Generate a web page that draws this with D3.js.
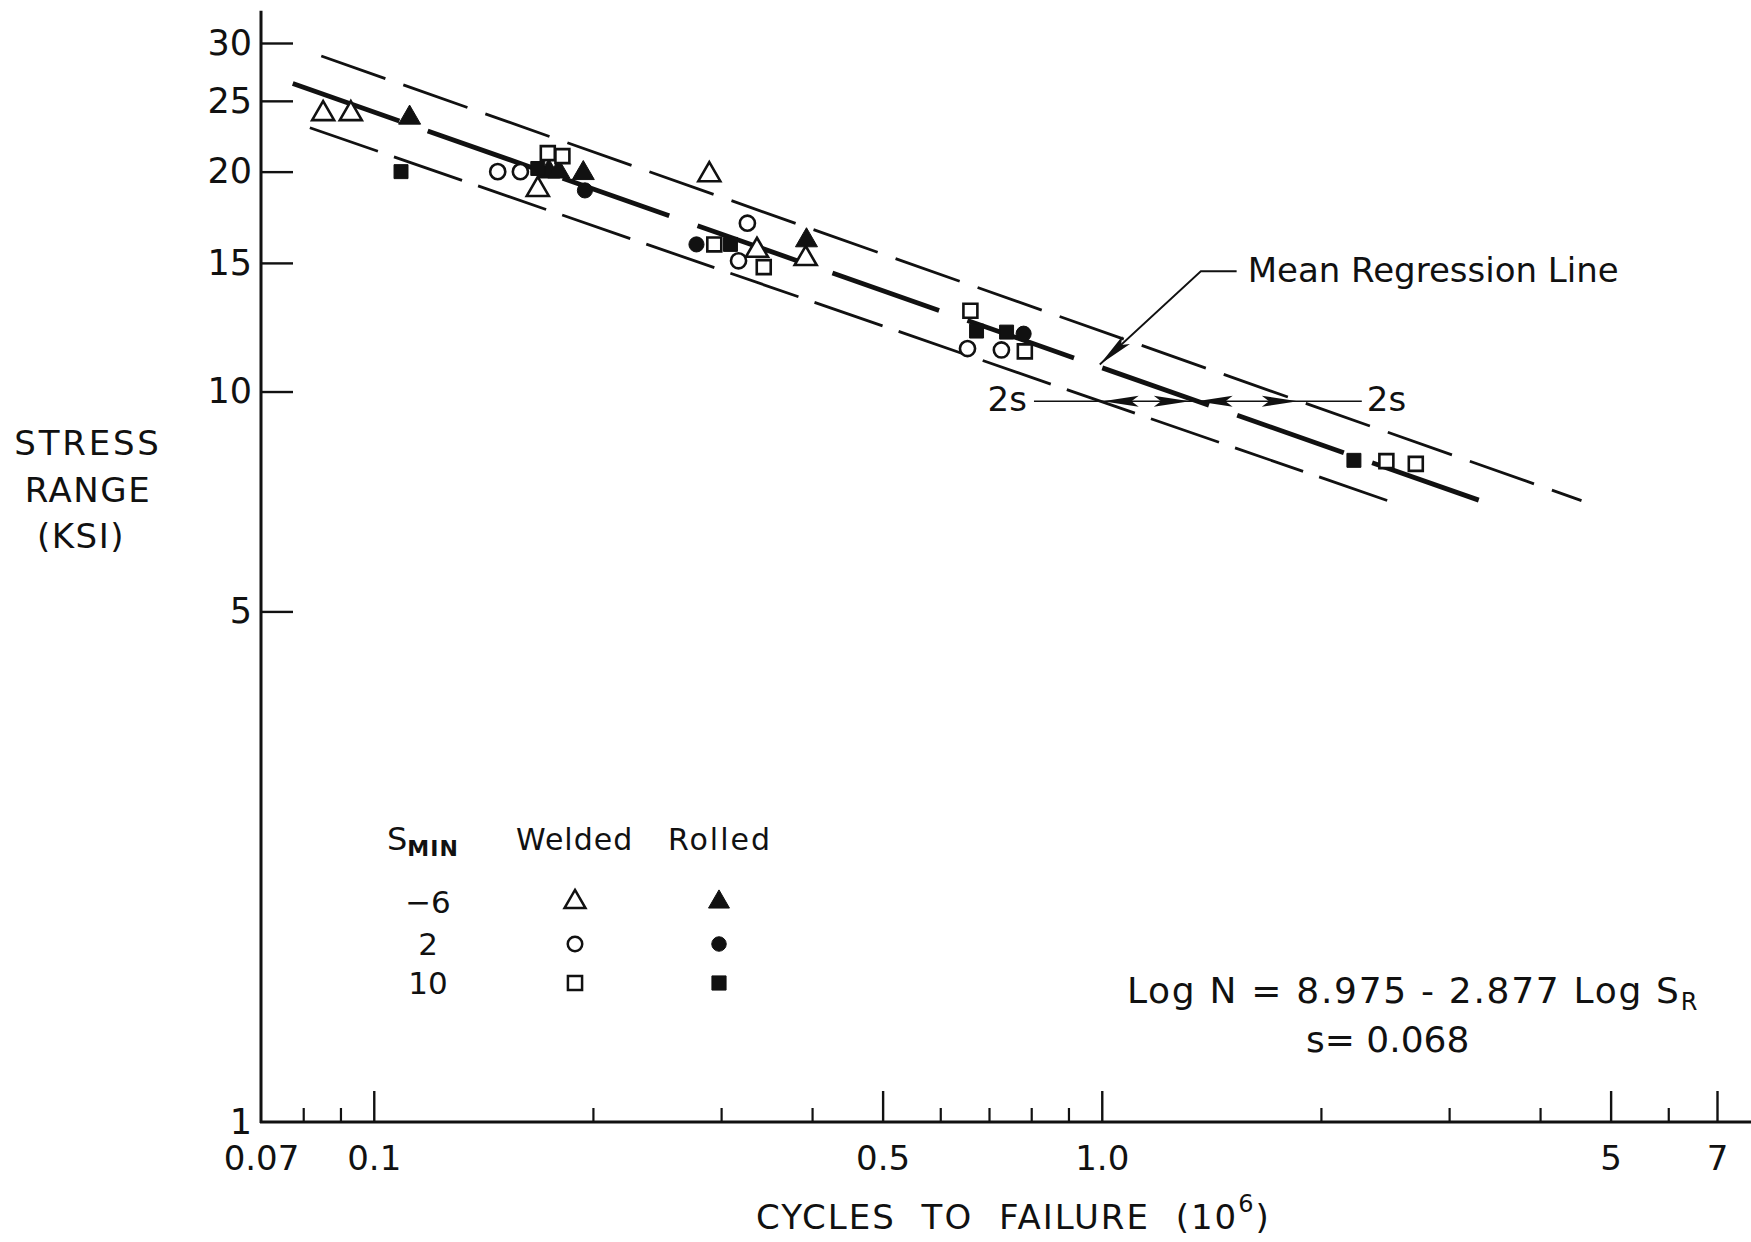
<!DOCTYPE html>
<html>
<head>
<meta charset="utf-8">
<script src="https://cdn.jsdelivr.net/npm/d3@7"></script>
<style>
  body { margin: 0; background: #fff; }
  svg { display: block; font-family: "DejaVu Sans", sans-serif; }
</style>
</head>
<body>
<div id="chart"></div>
<script>
/** Test results: [cycles to failure (10^6), stress range (ksi)] */
var weldedMinus6 = [[0.0852, 24.0], [0.0930, 24.0], [0.168, 18.9], [0.289, 19.8], [0.336, 15.6], [0.392, 15.2]];
var rolledMinus6 = [[0.112, 23.7], [0.174, 20.0], [0.1795, 20.0], [0.194, 19.9], [0.393, 16.1]];
var welded2 = [[0.148, 20.0], [0.159, 20.0], [0.326, 17.0], [0.317, 15.1], [0.654, 11.45], [0.728, 11.4]];
var rolled2 = [[0.195, 18.85], [0.2775, 15.9], [0.781, 12.0]];
var welded10 = [[0.1734, 21.2], [0.1816, 21.0], [0.2936, 15.9], [0.3433, 14.8], [0.660, 12.9], [0.784, 11.35], [2.46, 8.03], [2.70, 7.96]];
var rolled10 = [[0.109, 20.0], [0.168, 20.2], [0.309, 15.9], [0.673, 12.1], [0.740, 12.06], [2.22, 8.05]];

/** Regression line and the 2s bands, end points as drawn */
var meanLine = [[0.0774, 26.4], [3.31, 7.09]];
var upperLine = [[0.0847, 28.8], [4.56, 7.09]];
var lowerLine = [[0.0817, 22.97], [2.49, 7.07]];

/** Ticks */
var yTicks = [1, 5, 10, 15, 20, 25, 30];
var xLabelTicks = [0.07, 0.1, 0.5, 1, 5, 7];
var xTickLabels = ["0.07", "0.1", "0.5", "1.0", "5", "7"];
var xMinorTicks = [0.08, 0.09, 0.2, 0.3, 0.4, 0.6, 0.7, 0.8, 0.9, 2, 3, 4, 6];

/** 2s dimension arrows at one stress level */
var twoSLevel = 9.70;
var twoSSpan = [0.807, 2.276];
var twoSTips = [1.003, 1.321, 1.350, 1.859];
var twoSDirs = [-1, 1, -1, 1];

/** Leader of the "Mean Regression Line" note */
var leaderPoints = [[1.532, 14.61], [1.368, 14.61], [0.9937, 10.89]];

/** Legend */
var legendSmin = ["\u22126", "2", "10"];
var legendHeads = ["Welded", "Rolled"];

var width = 1751, height = 1242;
var ink = "#111";

var svg = d3.select("#chart").append("svg")
  .attr("width", width)
  .attr("height", height);

svg.append("rect").attr("width", width).attr("height", height).attr("fill", "#fff");

var x = d3.scaleLog().domain([0.07, 7]).range([261, 1717]);
var y = d3.scaleLog().domain([1, 30]).range([1122, 43]);

/**
 * @desc Draws a dart shaped arrow head.
 * @param {Array} tip Pixel position of the tip.
 * @param {Array} back Pixel position the shaft comes from.
 * @param {number} len Length of head, px.
 * @param {number} half Half width of head, px.
 */
function arrowHead(tip, back, len, half)
{
  var dx = back[0] - tip[0], dy = back[1] - tip[1];
  var d = Math.sqrt(dx * dx + dy * dy);
  var ux = dx / d, uy = dy / d, nx = -uy, ny = ux;
  var pts = [
    [tip[0], tip[1]],
    [tip[0] + len * ux + half * nx, tip[1] + len * uy + half * ny],
    [tip[0] + 0.8 * len * ux, tip[1] + 0.8 * len * uy],
    [tip[0] + len * ux - half * nx, tip[1] + len * uy - half * ny]
  ];
  svg.append("path")
    .attr("d", "M" + pts.map(function(p){ return p.join(","); }).join("L") + "Z")
    .attr("fill", ink);
}

/** Axes */
try
{
  var gy = svg.append("g").attr("transform", "translate(" + x(0.07) + ",0)");
  gy.call(d3.axisLeft(y).tickValues(yTicks).tickFormat(d3.format("d"))
    .tickSizeInner(-32).tickSizeOuter(0).tickPadding(9));
  gy.select(".domain").remove();
  gy.selectAll(".tick").filter(function(d){ return d === 1; }).select("line").remove();
  gy.selectAll(".tick line").attr("stroke", ink).attr("stroke-width", 2.4);
  gy.selectAll(".tick text").attr("fill", ink).attr("font-size", 35)
    .attr("font-family", "DejaVu Sans, sans-serif");

  var gxMinor = svg.append("g").attr("transform", "translate(0," + y(1) + ")");
  gxMinor.call(d3.axisBottom(x).tickValues(xMinorTicks).tickFormat("")
    .tickSizeInner(-14).tickSizeOuter(0));
  gxMinor.select(".domain").remove();
  gxMinor.selectAll(".tick line").attr("stroke", ink).attr("stroke-width", 2.2);

  var gx = svg.append("g").attr("transform", "translate(0," + y(1) + ")");
  gx.call(d3.axisBottom(x).tickValues(xLabelTicks)
    .tickFormat(function(d, i){ return xTickLabels[i]; })
    .tickSizeInner(-31).tickSizeOuter(0).tickPadding(24));
  gx.select(".domain").remove();
  gx.selectAll(".tick").filter(function(d){ return d === 0.07; }).select("line").remove();
  gx.selectAll(".tick line").attr("stroke", ink).attr("stroke-width", 2.4);
  gx.selectAll(".tick text").attr("fill", ink).attr("font-size", 34)
    .attr("font-family", "DejaVu Sans, sans-serif");

  svg.append("line")
    .attr("x1", x(0.07)).attr("x2", x(0.07))
    .attr("y1", y(1) + 1).attr("y2", y(33.2))
    .attr("stroke", ink).attr("stroke-width", 3);
  svg.append("line")
    .attr("x1", x(0.07) - 1).attr("x2", x(7.8))
    .attr("y1", y(1)).attr("y2", y(1))
    .attr("stroke", ink).attr("stroke-width", 3);
}
catch(err)
{
  throw "Unexpected error in axes. " + err;
}

/** Regression lines */
var line = d3.line()
  .x(function(d){ return x(d[0]); })
  .y(function(d){ return y(d[1]); });

svg.append("path").datum(upperLine).attr("d", line)
  .attr("fill", "none").attr("stroke", ink).attr("stroke-width", 2.8)
  .attr("stroke-dasharray", "68 19");
svg.append("path").datum(lowerLine).attr("d", line)
  .attr("fill", "none").attr("stroke", ink).attr("stroke-width", 2.8)
  .attr("stroke-dasharray", "72 17");
svg.append("path").datum(meanLine).attr("d", line)
  .attr("fill", "none").attr("stroke", ink).attr("stroke-width", 4.8)
  .attr("stroke-dasharray", "113 30");

/** 2s dimension */
svg.append("line")
  .attr("x1", x(twoSSpan[0])).attr("x2", x(twoSSpan[1]))
  .attr("y1", y(twoSLevel)).attr("y2", y(twoSLevel))
  .attr("stroke", ink).attr("stroke-width", 1.6);
twoSTips.forEach(function(t, i){
  var tip = [x(t), y(twoSLevel)];
  arrowHead(tip, [tip[0] - 50 * twoSDirs[i], tip[1]], 36, 5.5);
});
svg.append("text").attr("x", x(twoSSpan[0]) - 7).attr("y", y(twoSLevel) + 10)
  .attr("text-anchor", "end").attr("font-size", 34).attr("fill", ink).text("2s");
svg.append("text").attr("x", x(twoSSpan[1]) + 5).attr("y", y(twoSLevel) + 10)
  .attr("font-size", 34).attr("fill", ink).text("2s");

/** Mean regression note */
svg.append("path").datum(leaderPoints).attr("d", line)
  .attr("fill", "none").attr("stroke", ink).attr("stroke-width", 1.8);
var lp = leaderPoints.map(function(d){ return [x(d[0]), y(d[1])]; });
arrowHead(lp[2], lp[1], 36, 5.5);
svg.append("text").attr("x", lp[0][0] + 11).attr("y", lp[0][1] + 11)
  .attr("font-size", 34).attr("fill", ink).text("Mean Regression Line");

/** Points */
var series = [
  { data: weldedMinus6, type: d3.symbolTriangle, size: 210, filled: false },
  { data: rolledMinus6, type: d3.symbolTriangle, size: 210, filled: true },
  { data: welded2, type: d3.symbolCircle, size: 180, filled: false },
  { data: rolled2, type: d3.symbolCircle, size: 180, filled: true },
  { data: welded10, type: d3.symbolSquare, size: 195, filled: false },
  { data: rolled10, type: d3.symbolSquare, size: 195, filled: true }
];

series.forEach(function(s){
  svg.append("g").selectAll("path")
    .data(s.data)
    .enter().append("path")
    .attr("transform", function(d){ return "translate(" + x(d[0]) + "," + y(d[1]) + ")"; })
    .attr("d", d3.symbol().type(s.type).size(s.size)())
    .attr("fill", s.filled ? ink : "#fff")
    .attr("stroke", ink)
    .attr("stroke-width", s.filled ? 1 : 2.6);
});

/** Legend */
var lg = svg.append("g").attr("fill", ink);
var sHead = lg.append("text").attr("x", 387).attr("y", 850).attr("font-size", 32);
sHead.append("tspan").text("S");
sHead.append("tspan").attr("dy", 6).attr("font-size", 22).attr("font-weight", "bold")
  .attr("letter-spacing", 1).text("MIN");
lg.selectAll(".head").data(legendHeads).enter().append("text")
  .attr("x", function(d, i){ return i === 0 ? 516 : 668; })
  .attr("y", 850).attr("font-size", 30).attr("letter-spacing", function(d, i){ return i === 0 ? 1 : 2; })
  .text(function(d){ return d; });

var rowY = [902, 944, 983];
lg.selectAll(".smin").data(legendSmin).enter().append("text")
  .attr("x", 428).attr("y", function(d, i){ return rowY[i] + 11; })
  .attr("text-anchor", "middle").attr("font-size", 31)
  .text(function(d){ return d; });

var legendTypes = [d3.symbolTriangle, d3.symbolCircle, d3.symbolSquare];
var legendSizes = [190, 165, 200];
legendTypes.forEach(function(t, i){
  [false, true].forEach(function(filled, j){
    lg.append("path")
      .attr("transform", "translate(" + (j === 0 ? 575 : 719) + "," + rowY[i] + ")")
      .attr("d", d3.symbol().type(t).size(legendSizes[i])())
      .attr("fill", filled ? ink : "#fff")
      .attr("stroke", ink)
      .attr("stroke-width", filled ? 1 : 2.5);
  });
});

/** Equation */
var eq = svg.append("text").attr("x", 1127).attr("y", 1003)
  .attr("font-size", 36).attr("fill", ink);
eq.append("tspan").attr("letter-spacing", 1.7).text("Log N = 8.975 - 2.877 Log S");
eq.append("tspan").attr("dy", 7).attr("font-size", 24).text("R");
svg.append("text").attr("x", 1306).attr("y", 1052)
  .attr("font-size", 36).attr("fill", ink).text("s= 0.068");

/** Axis titles */
var yTitle = ["STRESS", "RANGE", "(KSI)"];
var yTitleX = [88, 88, 81];
var yTitleY = [455, 502, 548];
svg.selectAll(".ytitle").data(yTitle).enter().append("text")
  .attr("x", function(d, i){ return yTitleX[i]; })
  .attr("y", function(d, i){ return yTitleY[i]; })
  .attr("text-anchor", "middle").attr("font-size", 34)
  .attr("letter-spacing", function(d, i){ return i === 0 ? 2.8 : 1.5; })
  .attr("fill", ink).text(function(d){ return d; });

var xt = svg.append("text").attr("x", 756).attr("y", 1229)
  .attr("font-size", 34).attr("letter-spacing", 2).attr("word-spacing", 13).attr("fill", ink);
xt.append("tspan").text("CYCLES TO FAILURE (10");
xt.append("tspan").attr("dy", -17).attr("font-size", 24).text("6");
xt.append("tspan").attr("dy", 17).text(")");
</script>
</body>
</html>
